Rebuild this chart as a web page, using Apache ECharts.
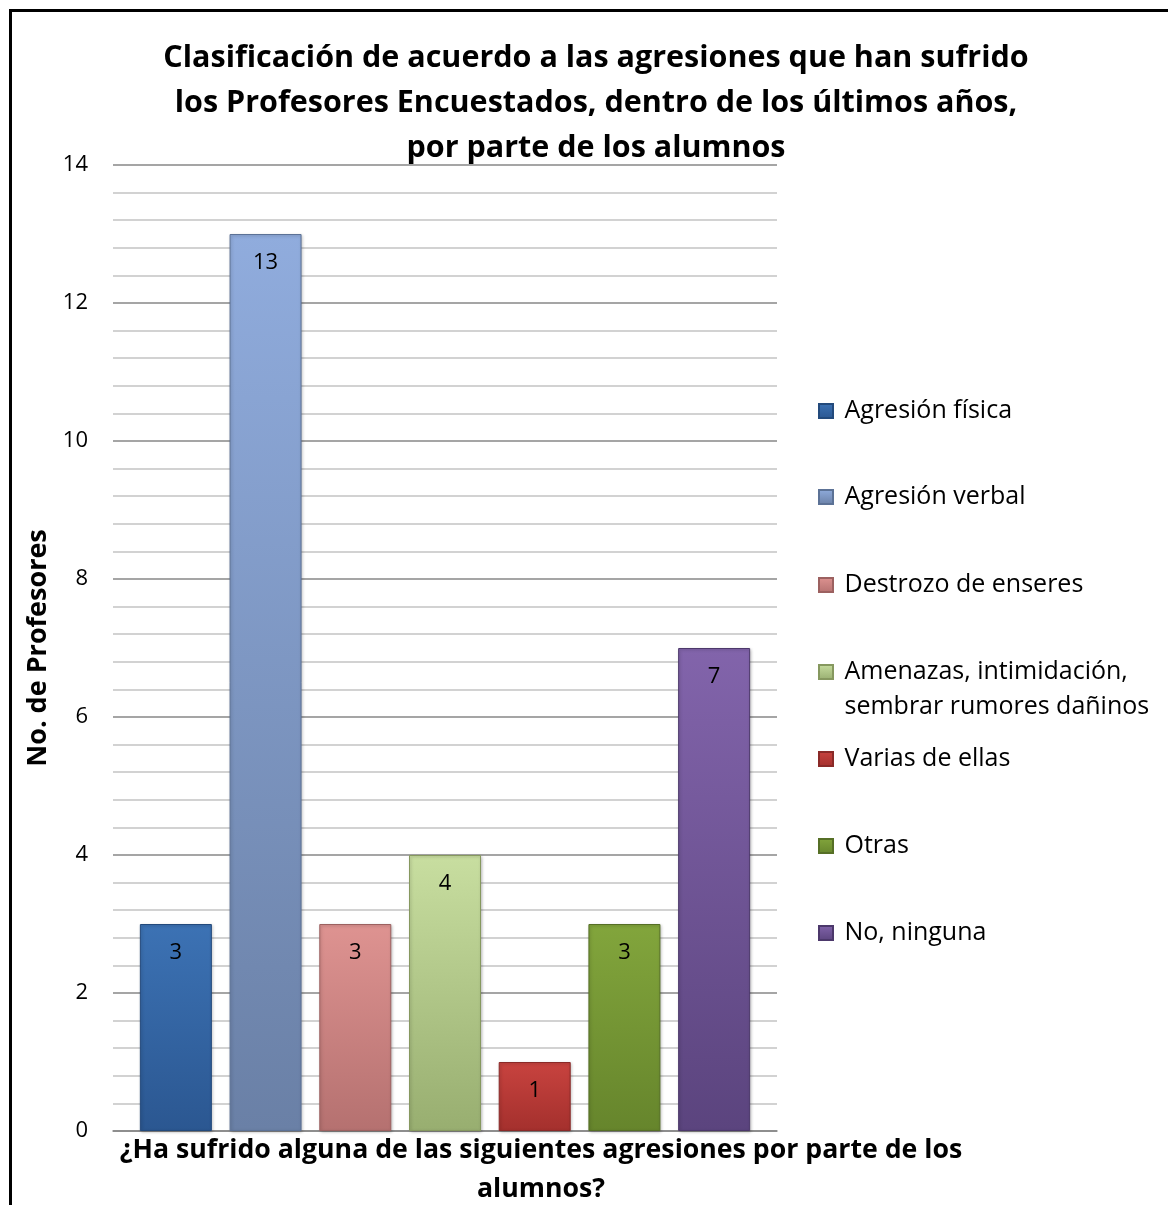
<!DOCTYPE html>
<html>
<head>
<meta charset="utf-8">
<script src="https://cdn.jsdelivr.net/npm/echarts@6/dist/echarts.min.js"></script>
<style>
html,body{margin:0;padding:0;background:#fff;}
#chart{width:1168px;height:1205px;}
</style>
</head>
<body>
<div id="chart"></div>
<script>
// ---- data ----
var categories = [''];
var seriesNames = [
  'Agresión física',
  'Agresión verbal',
  'Destrozo de enseres',
  'Amenazas, intimidación, sembrar rumores dañinos',
  'Varias de ellas',
  'Otras',
  'No, ninguna'
];
var values = [3, 13, 3, 4, 1, 3, 7];
var yTicks = [0, 2, 4, 6, 8, 10, 12, 14];

// ---- styles ----
var FONT = 'Open Sans';
var colorsTop = ['#3c72b4', '#90acdd', '#de9391', '#c8dea0', '#c8433f', '#82a53c', '#8264ab'];
var colorsBot = ['#2b5791', '#6a80a6', '#b57170', '#98ae70', '#a4302d', '#66852c', '#5b447e'];
var borders   = ['#234a7c', '#5c7296', '#9c6160', '#86985f', '#8a2a28', '#566f26', '#4c386b'];
var legendCenters = [411, 497, 585, 672, 759, 846, 933];

function grad(i) {
  return new echarts.graphic.LinearGradient(0, 0, 0, 1, [
    {offset: 0, color: colorsTop[i]},
    {offset: 1, color: colorsBot[i]}
  ]);
}

var series = seriesNames.map(function (name, i) {
  return {
    name: name,
    type: 'bar',
    data: [values[i]],
    barWidth: 72,
    barGap: '24.6%',
    itemStyle: {
      color: grad(i),
      borderColor: borders[i],
      borderWidth: 1,
      shadowColor: 'rgba(0,0,0,0.25)',
      shadowBlur: 3,
      shadowOffsetX: 1,
      shadowOffsetY: 1
    },
    label: {
      show: true,
      position: 'insideTop',
      distance: 18,
      color: '#000',
      fontFamily: FONT,
      fontSize: 22
    }
  };
});

var LH = 35;
var legends = seriesNames.map(function (name, i) {
  var multi = name.indexOf('Amenazas') === 0;
  var lg = {
    data: [name],
    orient: 'vertical',
    left: 818,
    padding: 0,
    itemWidth: 14,
    itemHeight: 14,
    itemGap: 0,
    icon: 'rect',
    selectedMode: false,
    textStyle: {
      fontFamily: FONT,
      fontSize: 25,
      color: '#000',
      lineHeight: LH
    }
  };
  if (multi) {
    lg.formatter = function () { return '\n Amenazas, intimidación,\n sembrar rumores dañinos'; };
    lg.top = legendCenters[i] - 1.5 * LH;
  } else {
    lg.formatter = function (n) { return ' ' + n; };
    lg.top = legendCenters[i] - LH / 2;
  }
  return lg;
});

var chart = echarts.init(document.getElementById('chart'));
chart.setOption({
  backgroundColor: '#fff',
  animation: false,
  title: {
    text: 'Clasificación de acuerdo a las agresiones que han sufrido\nlos Profesores Encuestados, dentro de los últimos años,\npor parte de los alumnos',
    left: 591,
    top: 31,
    textAlign: 'center',
    textStyle: {
      fontFamily: FONT,
      fontWeight: 'bold',
      fontSize: 30.5,
      lineHeight: 45,
      color: '#000'
    }
  },
  legend: legends,
  grid: {
    left: 113,
    right: 391,
    top: 165,
    bottom: 74,
    containLabel: false,
    outerBoundsMode: 'none'
  },
  xAxis: {
    type: 'category',
    data: categories,
    axisTick: {show: false},
    axisLabel: {show: false},
    axisLine: {lineStyle: {color: '#868686', width: 1.5}},
    name: '¿Ha sufrido alguna de las siguientes agresiones por parte de los\nalumnos?',
    nameLocation: 'middle',
    nameGap: 0,
    nameTextStyle: {
      fontFamily: FONT,
      fontWeight: 'bold',
      fontSize: 26.7,
      lineHeight: 39,
      color: '#000',
      align: 'center',
      verticalAlign: 'top',
      padding: [0, 0, 0, 192]
    }
  },
  yAxis: {
    type: 'value',
    min: yTicks[0],
    max: yTicks[yTicks.length - 1],
    interval: yTicks[1] - yTicks[0],
    axisLine: {show: false},
    axisTick: {show: false},
    axisLabel: {
      fontFamily: FONT,
      fontSize: 22,
      color: '#000',
      margin: 25
    },
    splitLine: {lineStyle: {color: '#878787', width: 1.5}},
    minorTick: {show: false, splitNumber: 5},
    minorSplitLine: {show: true, lineStyle: {color: '#c4c4c4', width: 1.5}},
    name: 'No. de Profesores',
    nameLocation: 'middle',
    nameGap: 60,
    nameTextStyle: {
      fontFamily: FONT,
      fontWeight: 'bold',
      fontSize: 27,
      color: '#000'
    }
  },
  graphic: [{
    type: 'rect',
    shape: {x: 10.5, y: 10.5, width: 3000, height: 3000},
    style: {fill: 'none', stroke: '#000', lineWidth: 3},
    silent: true,
    z: 100
  }],
  series: series
});
</script>
</body>
</html>
